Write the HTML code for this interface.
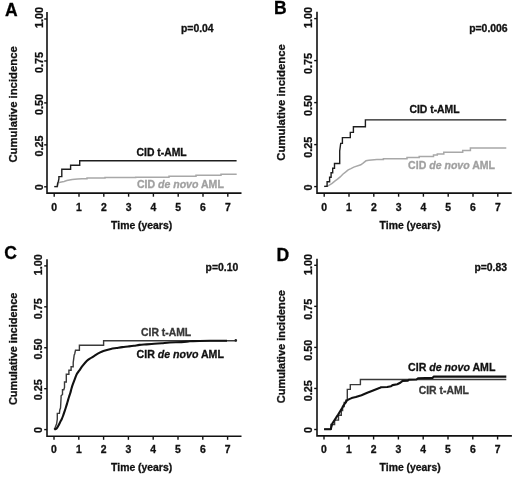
<!DOCTYPE html>
<html><head><meta charset="utf-8"><style>
html,body{margin:0;padding:0;background:#fff;width:520px;height:479px;overflow:hidden}
svg{display:block;will-change:transform;filter:blur(0.25px)}
text{font-family:"Liberation Sans", sans-serif;font-weight:bold;fill:#111;stroke:#111;stroke-width:0.3px}
.t{font-size:10.4px}
.yt{font-size:11.2px}
.yl{font-size:10.8px}
.L{font-size:17.5px;fill:#000;stroke:#000}
.g{fill:#a0a0a0;stroke:#a0a0a0}
.g2{fill:#383838;stroke:#383838}
.i{font-style:italic}
</style></head><body>
<svg width="520" height="479" viewBox="0 0 520 479">
<rect width="520" height="479" fill="#fff"/>
<path d="M47.0,12.0V193.1H241.5" fill="none" stroke="#111" stroke-width="1.6"/>
<path d="M44.2,186.80H47.0" stroke="#111" stroke-width="1.4"/>
<text transform="translate(42.8,187.30) rotate(-90)" text-anchor="middle" class="yl">0</text>
<path d="M44.2,144.85H47.0" stroke="#111" stroke-width="1.4"/>
<text transform="translate(42.8,145.95) rotate(-90)" text-anchor="middle" class="yl">0.25</text>
<path d="M44.2,102.90H47.0" stroke="#111" stroke-width="1.4"/>
<text transform="translate(42.8,104.40) rotate(-90)" text-anchor="middle" class="yl">0.50</text>
<path d="M44.2,60.95H47.0" stroke="#111" stroke-width="1.4"/>
<text transform="translate(42.8,62.60) rotate(-90)" text-anchor="middle" class="yl">0.75</text>
<path d="M44.2,19.00H47.0" stroke="#111" stroke-width="1.4"/>
<text transform="translate(42.8,17.60) rotate(-90)" text-anchor="middle" class="yl">1.00</text>
<path d="M54.20,193.1V196.7" stroke="#111" stroke-width="1.4"/>
<text x="54.20" y="210.8" text-anchor="middle" class="t">0</text>
<path d="M79.00,193.1V196.7" stroke="#111" stroke-width="1.4"/>
<text x="79.00" y="210.8" text-anchor="middle" class="t">1</text>
<path d="M103.80,193.1V196.7" stroke="#111" stroke-width="1.4"/>
<text x="103.80" y="210.8" text-anchor="middle" class="t">2</text>
<path d="M128.60,193.1V196.7" stroke="#111" stroke-width="1.4"/>
<text x="128.60" y="210.8" text-anchor="middle" class="t">3</text>
<path d="M153.40,193.1V196.7" stroke="#111" stroke-width="1.4"/>
<text x="153.40" y="210.8" text-anchor="middle" class="t">4</text>
<path d="M178.20,193.1V196.7" stroke="#111" stroke-width="1.4"/>
<text x="178.20" y="210.8" text-anchor="middle" class="t">5</text>
<path d="M203.00,193.1V196.7" stroke="#111" stroke-width="1.4"/>
<text x="203.00" y="210.8" text-anchor="middle" class="t">6</text>
<path d="M227.80,193.1V196.7" stroke="#111" stroke-width="1.4"/>
<text x="227.80" y="210.8" text-anchor="middle" class="t">7</text>
<text x="111.1" y="229.0" class="t">Time (years)</text>
<text transform="translate(16.85,104.4) rotate(-90)" text-anchor="middle" class="yt" style="font-size:11.32px">Cumulative incidence</text>
<text x="11.4" y="15.7" text-anchor="middle" class="L">A</text>
<text x="181.0" y="32.2" class="t">p=0.04</text>
<path d="M317.0,11.8V193.1H511.7" fill="none" stroke="#111" stroke-width="1.6"/>
<path d="M314.2,186.60H317.0" stroke="#111" stroke-width="1.4"/>
<text transform="translate(311.6,187.40) rotate(-90)" text-anchor="middle" class="yl">0</text>
<path d="M314.2,144.60H317.0" stroke="#111" stroke-width="1.4"/>
<text transform="translate(311.6,147.25) rotate(-90)" text-anchor="middle" class="yl">0.25</text>
<path d="M314.2,102.60H317.0" stroke="#111" stroke-width="1.4"/>
<text transform="translate(311.6,105.55) rotate(-90)" text-anchor="middle" class="yl">0.50</text>
<path d="M314.2,60.60H317.0" stroke="#111" stroke-width="1.4"/>
<text transform="translate(311.6,63.40) rotate(-90)" text-anchor="middle" class="yl">0.75</text>
<path d="M314.2,18.60H317.0" stroke="#111" stroke-width="1.4"/>
<text transform="translate(311.6,17.45) rotate(-90)" text-anchor="middle" class="yl">1.00</text>
<path d="M324.20,193.1V196.7" stroke="#111" stroke-width="1.4"/>
<text x="324.20" y="210.8" text-anchor="middle" class="t">0</text>
<path d="M349.00,193.1V196.7" stroke="#111" stroke-width="1.4"/>
<text x="349.00" y="210.8" text-anchor="middle" class="t">1</text>
<path d="M373.80,193.1V196.7" stroke="#111" stroke-width="1.4"/>
<text x="373.80" y="210.8" text-anchor="middle" class="t">2</text>
<path d="M398.60,193.1V196.7" stroke="#111" stroke-width="1.4"/>
<text x="398.60" y="210.8" text-anchor="middle" class="t">3</text>
<path d="M423.40,193.1V196.7" stroke="#111" stroke-width="1.4"/>
<text x="423.40" y="210.8" text-anchor="middle" class="t">4</text>
<path d="M448.20,193.1V196.7" stroke="#111" stroke-width="1.4"/>
<text x="448.20" y="210.8" text-anchor="middle" class="t">5</text>
<path d="M473.00,193.1V196.7" stroke="#111" stroke-width="1.4"/>
<text x="473.00" y="210.8" text-anchor="middle" class="t">6</text>
<path d="M497.80,193.1V196.7" stroke="#111" stroke-width="1.4"/>
<text x="497.80" y="210.8" text-anchor="middle" class="t">7</text>
<text x="379.6" y="229.0" class="t">Time (years)</text>
<text transform="translate(285.3,102.4) rotate(-90)" text-anchor="middle" class="yt" style="font-size:11.35px">Cumulative incidence</text>
<text x="280.3" y="13.7" text-anchor="middle" class="L">B</text>
<text x="469.2" y="31.9" class="t">p=0.006</text>
<path d="M47.0,259.2V436.2H241.5" fill="none" stroke="#111" stroke-width="1.6"/>
<path d="M44.2,429.60H47.0" stroke="#111" stroke-width="1.4"/>
<text transform="translate(42.3,429.90) rotate(-90)" text-anchor="middle" class="yl">0</text>
<path d="M44.2,388.68H47.0" stroke="#111" stroke-width="1.4"/>
<text transform="translate(42.3,389.65) rotate(-90)" text-anchor="middle" class="yl">0.25</text>
<path d="M44.2,347.75H47.0" stroke="#111" stroke-width="1.4"/>
<text transform="translate(42.3,349.10) rotate(-90)" text-anchor="middle" class="yl">0.50</text>
<path d="M44.2,306.82H47.0" stroke="#111" stroke-width="1.4"/>
<text transform="translate(42.3,308.65) rotate(-90)" text-anchor="middle" class="yl">0.75</text>
<path d="M44.2,265.90H47.0" stroke="#111" stroke-width="1.4"/>
<text transform="translate(42.3,264.70) rotate(-90)" text-anchor="middle" class="yl">1.00</text>
<path d="M54.00,436.2V439.8" stroke="#111" stroke-width="1.4"/>
<text x="54.00" y="452.8" text-anchor="middle" class="t">0</text>
<path d="M78.80,436.2V439.8" stroke="#111" stroke-width="1.4"/>
<text x="78.80" y="452.8" text-anchor="middle" class="t">1</text>
<path d="M103.60,436.2V439.8" stroke="#111" stroke-width="1.4"/>
<text x="103.60" y="452.8" text-anchor="middle" class="t">2</text>
<path d="M128.40,436.2V439.8" stroke="#111" stroke-width="1.4"/>
<text x="128.40" y="452.8" text-anchor="middle" class="t">3</text>
<path d="M153.20,436.2V439.8" stroke="#111" stroke-width="1.4"/>
<text x="153.20" y="452.8" text-anchor="middle" class="t">4</text>
<path d="M178.00,436.2V439.8" stroke="#111" stroke-width="1.4"/>
<text x="178.00" y="452.8" text-anchor="middle" class="t">5</text>
<path d="M202.80,436.2V439.8" stroke="#111" stroke-width="1.4"/>
<text x="202.80" y="452.8" text-anchor="middle" class="t">6</text>
<path d="M227.60,436.2V439.8" stroke="#111" stroke-width="1.4"/>
<text x="227.60" y="452.8" text-anchor="middle" class="t">7</text>
<text x="111.1" y="471.2" class="t">Time (years)</text>
<text transform="translate(16.85,348.9) rotate(-90)" text-anchor="middle" class="yt" style="font-size:10.95px">Cumulative incidence</text>
<text x="10.5" y="259.3" text-anchor="middle" class="L">C</text>
<text x="205.6" y="270.9" class="t">p=0.10</text>
<path d="M317.0,258.8V435.9H511.9" fill="none" stroke="#111" stroke-width="1.6"/>
<path d="M314.2,429.50H317.0" stroke="#111" stroke-width="1.4"/>
<text transform="translate(311.6,430.00) rotate(-90)" text-anchor="middle" class="yl">0</text>
<path d="M314.2,388.45H317.0" stroke="#111" stroke-width="1.4"/>
<text transform="translate(311.6,390.75) rotate(-90)" text-anchor="middle" class="yl">0.25</text>
<path d="M314.2,347.40H317.0" stroke="#111" stroke-width="1.4"/>
<text transform="translate(311.6,350.25) rotate(-90)" text-anchor="middle" class="yl">0.50</text>
<path d="M314.2,306.35H317.0" stroke="#111" stroke-width="1.4"/>
<text transform="translate(311.6,309.25) rotate(-90)" text-anchor="middle" class="yl">0.75</text>
<path d="M314.2,265.30H317.0" stroke="#111" stroke-width="1.4"/>
<text transform="translate(311.6,264.50) rotate(-90)" text-anchor="middle" class="yl">1.00</text>
<path d="M324.00,435.9V439.5" stroke="#111" stroke-width="1.4"/>
<text x="324.00" y="453.3" text-anchor="middle" class="t">0</text>
<path d="M348.80,435.9V439.5" stroke="#111" stroke-width="1.4"/>
<text x="348.80" y="453.3" text-anchor="middle" class="t">1</text>
<path d="M373.60,435.9V439.5" stroke="#111" stroke-width="1.4"/>
<text x="373.60" y="453.3" text-anchor="middle" class="t">2</text>
<path d="M398.40,435.9V439.5" stroke="#111" stroke-width="1.4"/>
<text x="398.40" y="453.3" text-anchor="middle" class="t">3</text>
<path d="M423.20,435.9V439.5" stroke="#111" stroke-width="1.4"/>
<text x="423.20" y="453.3" text-anchor="middle" class="t">4</text>
<path d="M448.00,435.9V439.5" stroke="#111" stroke-width="1.4"/>
<text x="448.00" y="453.3" text-anchor="middle" class="t">5</text>
<path d="M472.80,435.9V439.5" stroke="#111" stroke-width="1.4"/>
<text x="472.80" y="453.3" text-anchor="middle" class="t">6</text>
<path d="M497.60,435.9V439.5" stroke="#111" stroke-width="1.4"/>
<text x="497.60" y="453.3" text-anchor="middle" class="t">7</text>
<text x="379.6" y="471.2" class="t">Time (years)</text>
<text transform="translate(285.3,346.6) rotate(-90)" text-anchor="middle" class="yt" style="font-size:11.0px">Cumulative incidence</text>
<text x="282.8" y="260.7" text-anchor="middle" class="L">D</text>
<text x="474.4" y="271.0" class="t">p=0.83</text>
<path d="M54.3,186.6 H57.4 L58.3,183.2 L59.2,182.5 L61.4,182 L64.1,181.4 L66.8,180.6 L69.5,180 L72.2,179.5 L77.5,179.1 L82,178.8 H87 V178.1 H105 V177.6 H135.7 V177.3 H169 V176.3 H196 V175.2 H221 V174.3 H236.7" fill="none" stroke="#a8a8a8" stroke-width="1.5"/>
<path d="M54.3,186.6 H57.2 L57.6,183.4 L58.4,181.2 L58.9,179 V176.6 H61.8 V169.3 H70.6 V165.2 H79.7 V160.7 H236.6" fill="none" stroke="#1e1e1e" stroke-width="1.4"/>
<text x="136.5" y="155.5" class="t">CID t-AML</text>
<text x="136.9" y="187.6" class="t g" style="font-size:10.55px">CID <tspan class="i">de novo</tspan> AML</text>
<path d="M324.2,186.4 L327.8,186.1 L332.1,183.4 L334.8,181.2 L337.5,179.1 L340.2,176.9 L342.8,174.2 L345.5,172.1 L348.2,169.9 L350.9,168.6 L353.8,167.1 L360.8,164.8 L363.1,163.1 L366.0,160.8 L368.8,160.2 L376.9,159.6 L380.0,159.4 H383.4 V158.8 H407 V157.6 H419.2 V156.4 H433.5 V155 H437.3 V154 H443.8 V152.3 H462.7 V150.5 H470.4 V148.1 H506.3" fill="none" stroke="#a8a8a8" stroke-width="1.5"/>
<path d="M324.2,186.4 H327.1 V181.8 H329.6 V177.3 H331.1 V172.7 H332.7 V168.2 H334.5 V163.5 H339.7 V151 L340.7,143.4 H342.4 V137.6 H350.3 V132.4 H353.4 V126.7 H365.4 V119.9 H506.3" fill="none" stroke="#1e1e1e" stroke-width="1.4"/>
<text x="409.4" y="113.4" class="t">CID t-AML</text>
<text x="408.1" y="169.2" class="t g" style="font-size:10.55px">CID <tspan class="i">de novo</tspan> AML</text>
<path d="M54.3,429.6 L54.8,428.4 L56.6,423.8 L57.3,419.2 V413.4 H59.4 L59.8,410 L60.5,408 L60.8,403 L61.1,397.6 V395.8 L62.5,394.4 V389.8 H63.8 L64.5,387.5 V382 H66.3 V374.2 H68.9 V370.3 H71.1 V366.7 H73.2 V362.6 L74.2,355 L74.7,354 L75.5,350.2 H79.4 V345.3 H103.6 V340.8 H236.5" fill="none" stroke="#3a3a3a" stroke-width="1.4"/>
<path d="M54.30,429.60 C54.38,429.55 54.42,429.50 54.80,429.30 C55.18,429.10 56.00,429.02 56.60,428.40 C57.20,427.78 57.83,426.60 58.40,425.60 C58.97,424.60 59.45,423.47 60.00,422.40 C60.55,421.33 61.20,420.27 61.70,419.20 C62.20,418.13 62.53,417.27 63.00,416.00 C63.47,414.73 64.00,413.10 64.50,411.60 C65.00,410.10 65.50,408.60 66.00,407.00 C66.50,405.40 67.00,403.67 67.50,402.00 C68.00,400.33 68.53,398.50 69.00,397.00 C69.47,395.50 69.88,394.42 70.30,393.00 C70.72,391.58 71.10,389.88 71.50,388.50 C71.90,387.12 72.17,386.22 72.70,384.70 C73.23,383.18 74.03,381.15 74.70,379.40 C75.37,377.65 75.92,375.70 76.70,374.20 C77.48,372.70 78.40,371.82 79.40,370.40 C80.40,368.98 81.48,367.27 82.70,365.70 C83.92,364.13 85.33,362.28 86.70,361.00 C88.07,359.72 89.52,358.93 90.90,358.00 C92.28,357.07 93.62,356.25 95.00,355.40 C96.38,354.55 97.80,353.63 99.20,352.90 C100.60,352.17 101.47,351.67 103.40,351.00 C105.33,350.33 108.62,349.40 110.80,348.90 C112.98,348.40 114.58,348.30 116.50,348.00 C118.42,347.70 120.37,347.35 122.30,347.10 C124.23,346.85 126.17,346.72 128.10,346.50 C130.03,346.28 131.98,346.07 133.90,345.80 C135.82,345.53 137.50,345.13 139.60,344.90 C141.70,344.67 144.07,344.58 146.50,344.40 C148.93,344.22 151.63,344.00 154.20,343.80 C156.77,343.60 159.33,343.42 161.90,343.20 C164.47,342.98 166.33,342.68 169.60,342.50 C172.87,342.32 178.35,342.27 181.50,342.10 C184.65,341.93 186.58,341.67 188.50,341.50 C190.42,341.33 189.42,341.22 193.00,341.10 C196.58,340.98 204.33,340.87 210.00,340.80 C215.67,340.73 224.17,340.72 227.00,340.70" fill="none" stroke="#111" stroke-width="2.1" stroke-linejoin="round"/>
<circle cx="235.8" cy="340.4" r="1.3" fill="#222"/>
<text x="141" y="335.9" class="t g2">CIR t-AML</text>
<text x="136.6" y="358" class="t" style="font-size:10.6px">CIR <tspan class="i">de novo</tspan> AML</text>
<path d="M324.1,429.2 H330.9 V424.5 H334.6 V420.1 H338.5 V415.2 H341.3 V410.5 H342.6 V406.5 H344.2 V402.5 H345.9 V400.3 H347.3 V389.4 H350.3 V384.6 H360.4 V379.45 H506.3" fill="none" stroke="#3a3a3a" stroke-width="1.4"/>
<path d="M324.1,429.2 L330.8,429.2 L331.2,427.6 L332.3,423.5 L334.4,420.4 L336.4,417.2 L338.2,414.6 L339.7,412.0 L342.0,408.3 L343.8,405.0 L345.7,402.3 L347.0,400.4 L349.3,399.1 L351.6,398.1 L355.8,397.1 L361.5,395.2 L367.3,392.7 L373.1,390.4 L380.0,387.8 L381.1,387.3 L387.2,387.0 L391.1,386.2 L392.6,385.1 L397.2,384.3 L400.3,382.8 L402.6,380.9 L408.0,380.6 L408.8,379.7 L416.5,379.5 L418.0,378.3 L432.5,377.9 L433.8,376.6 L506.3,376.6" fill="none" stroke="#111" stroke-width="2.1" stroke-linejoin="round"/>
<text x="418.7" y="393.6" class="t g2">CIR t-AML</text>
<text x="408.1" y="371.2" class="t" style="font-size:10.6px">CIR <tspan class="i">de novo</tspan> AML</text>
</svg>
</body></html>
